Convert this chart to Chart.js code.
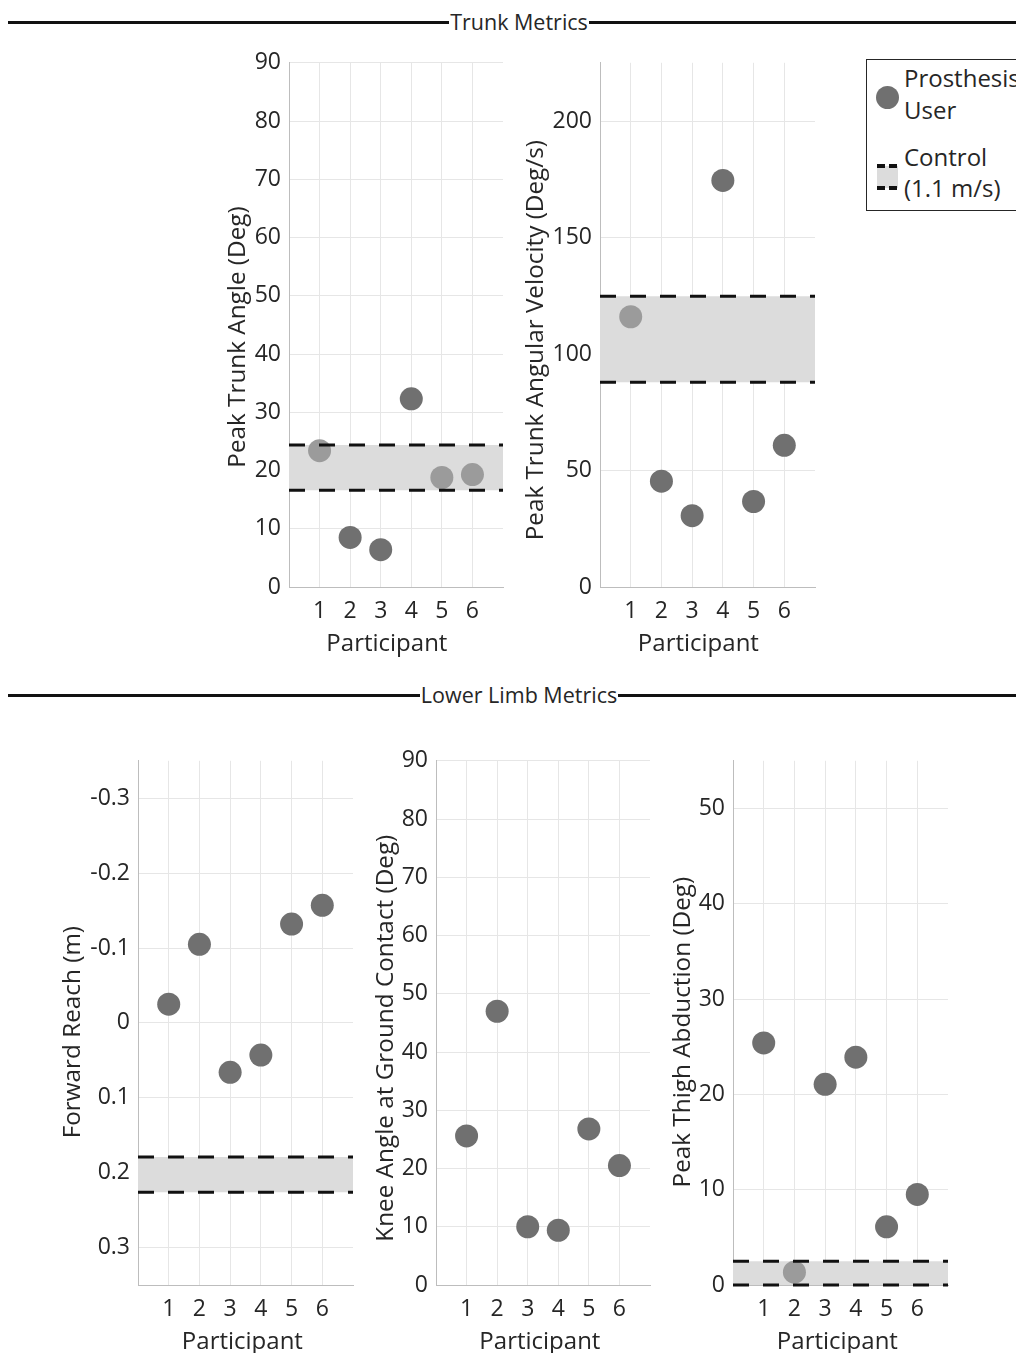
<!DOCTYPE html>
<html>
<head>
<meta charset="utf-8">
<script src="https://cdn.jsdelivr.net/npm/chart.js@4.4.1/dist/chart.umd.min.js"></script>
<style>
	body { margin: 0; width: 1016px; height: 1353px; overflow: hidden; background: #fff; position: relative; font-family: 'Open Sans', sans-serif; color: #262626; }
	.header { position: absolute; left: 8px; right: -14px; height: 26px; display: flex; align-items: center; }
	.header .ln { flex: 1; height: 3px; background: #111; }
	.header span { font-size: 21.5px; line-height: 26px; padding: 0 1px; }
	canvas { position: absolute; }
	#legend { position: absolute; left: 866px; top: 59px; width: 170px; height: 150px; border: 1.5px solid #262626; background: #fff; }
	#legend .txt { position: absolute; left: 37px; font-size: 24px; line-height: 30px; white-space: nowrap; }
	#legend .dot { position: absolute; left: 9px; top: 26px; width: 23px; height: 23px; border-radius: 50%; background: #707070; }
	#legend .band { position: absolute; left: 10px; top: 106px; width: 21px; height: 22px; background: #dcdcdc; }
	#legend .dash { position: absolute; width: 8px; height: 4px; background: #111; }
</style>
</head>
<body>

<div class="header" style="top:9px"><div class="ln"></div><span>Trunk Metrics</span><div class="ln"></div></div>
<div class="header" style="top:682px"><div class="ln"></div><span>Lower Limb Metrics</span><div class="ln"></div></div>

<canvas id="c1"></canvas>
<canvas id="c2"></canvas>
<canvas id="c3"></canvas>
<canvas id="c4"></canvas>
<canvas id="c5"></canvas>

<div id="legend">
	<div class="dot"></div>
	<div class="txt" style="top:3px">Prosthesis</div>
	<div class="txt" style="top:35px">User</div>
	<div class="band"></div>
	<div class="dash" style="left:10px;top:104px"></div>
	<div class="dash" style="left:22px;top:104px"></div>
	<div class="dash" style="left:10px;top:126px"></div>
	<div class="dash" style="left:22px;top:126px"></div>
	<div class="txt" style="top:82px">Control</div>
	<div class="txt" style="top:113px">(1.1 m/s)</div>
</div>

<script>
// datos
const participants = [1, 2, 3, 4, 5, 6];

const trunkAngle = [23.4, 8.5, 6.4, 32.3, 18.8, 19.3];
const trunkAngleBand = [16.6, 24.4];
const trunkAngleTicks = [0, 10, 20, 30, 40, 50, 60, 70, 80, 90];

const trunkVel = [116, 45.4, 30.6, 174.5, 36.7, 60.8];
const trunkVelBand = [87.9, 124.8];
const trunkVelTicks = [0, 50, 100, 150, 200];

const reach = [-0.025, -0.105, 0.066, 0.043, -0.132, -0.157];
const reachBand = [0.179, 0.226];
const reachTicks = [-0.3, -0.2, -0.1, 0, 0.1, 0.2, 0.3];

const knee = [25.6, 47.0, 10.0, 9.4, 26.8, 20.5];
const kneeTicks = [0, 10, 20, 30, 40, 50, 60, 70, 80, 90];

const thigh = [25.4, 1.35, 21.05, 23.9, 6.1, 9.5];
const thighBand = [0, 2.5];
const thighTicks = [0, 10, 20, 30, 40, 50];

const TEXT = '#262626';
const GRID = '#e6e6e6';
const AXIS = '#bdbdbd';
const DARK = '#707070';
const LIGHT = '#9b9b9b';
const BANDFILL = '#dcdcdc';

// espaços no fim só para deslocar o rótulo como no original
const EM = '\u2003', EN = '\u2002';

function panel(id, box, yTitle, values, band, yMin, yMax, yTicks, reverse, yW, xPad) {
	const padTop = 20, padRight = 12, xH = 72;
	const canvas = document.getElementById(id);
	canvas.width = yW + (box.r - box.l) + padRight;
	canvas.height = padTop + (box.b - box.t) + xH;
	canvas.style.left = (box.l - yW) + 'px';
	canvas.style.top = (box.t - padTop) + 'px';

	const across = v => [{ x: 0, y: v }, { x: 7, y: v }];
	const datasets = [];

	//linhas tracejadas por cima
	if (band) {
		band.forEach(v => datasets.push({
			type: 'line', data: across(v), showLine: true, fill: false,
			borderColor: '#111', borderWidth: 3, borderDash: [16, 14],
			pointRadius: 0, clip: false,
		}));
	}

	datasets.push({
		type: 'scatter',
		data: participants.map((p, i) => ({ x: p, y: values[i] })),
		pointRadius: 11.5,
		borderWidth: 0,
		backgroundColor: ctx => (band && ctx.raw && ctx.raw.y >= band[0] && ctx.raw.y <= band[1]) ? LIGHT : DARK,
		clip: false,
	});

	//faixa do controle por baixo
	if (band) {
		datasets.push({
			type: 'line', data: across(band[1]), showLine: true,
			fill: { value: band[0] }, backgroundColor: BANDFILL,
			borderWidth: 0, borderColor: 'rgba(0,0,0,0)', pointRadius: 0, clip: false,
		});
	}

	new Chart(canvas, {
		type: 'scatter',
		data: { datasets: datasets },
		options: {
			responsive: false,
			animation: false,
			events: [],
			layout: { padding: { top: padTop, right: padRight, left: 0, bottom: 0 } },
			plugins: { legend: { display: false }, tooltip: { enabled: false } },
			scales: {
				x: {
					type: 'linear', min: 0, max: 7,
					afterBuildTicks: s => { s.ticks = participants.map(v => ({ value: v })); },
					afterFit: s => { s.height = xH; },
					ticks: { color: TEXT, font: { family: 'Open Sans', size: 23 }, padding: 11, autoSkip: false, maxRotation: 0 },
					grid: { color: GRID, drawTicks: false },
					border: { color: AXIS, width: 1 },
					title: { display: true, text: 'Participant' + xPad, color: TEXT, font: { family: 'Open Sans', size: 24 }, padding: 0 },
				},
				y: {
					type: 'linear', min: yMin, max: yMax, reverse: reverse,
					afterBuildTicks: s => { s.ticks = yTicks.map(v => ({ value: v })); },
					afterFit: s => { s.width = yW; },
					ticks: { color: TEXT, font: { family: 'Open Sans', size: 23 }, padding: 8, callback: v => String(v) },
					grid: { color: GRID, drawTicks: false },
					border: { color: AXIS, width: 1 },
					title: { display: true, text: yTitle, color: TEXT, font: { family: 'Open Sans', size: 24.3 }, padding: { top: 2, bottom: 0 } },
				},
			},
		},
	});
}

panel('c1', { l: 289, r: 503, t: 61, b: 587 }, 'Peak Trunk Angle (Deg)' + EM, trunkAngle, trunkAngleBand, 0, 90, trunkAngleTicks, false, 68, EN + ' ');
panel('c2', { l: 600, r: 815, t: 61, b: 587 }, 'Peak Trunk Angular Velocity (Deg/s)' + EM + ' ', trunkVel, trunkVelBand, 0, 225, trunkVelTicks, false, 81, EN + ' ');
panel('c3', { l: 138, r: 353, t: 759, b: 1285 }, 'Forward Reach (m)' + EN + ' ', reach, reachBand, -0.35, 0.35, reachTicks, true, 82, ' ');
panel('c4', { l: 436, r: 650, t: 759, b: 1285 }, 'Knee Angle at Ground Contact (Deg)' + EM + ' ', knee, null, 0, 90, kneeTicks, false, 67, ' ');
panel('c5', { l: 733, r: 948, t: 759, b: 1285 }, 'Peak Thigh Abduction (Deg)' + EN + ' ', thigh, thighBand, 0, 55, thighTicks, false, 67, ' ');
</script>
</body>
</html>
